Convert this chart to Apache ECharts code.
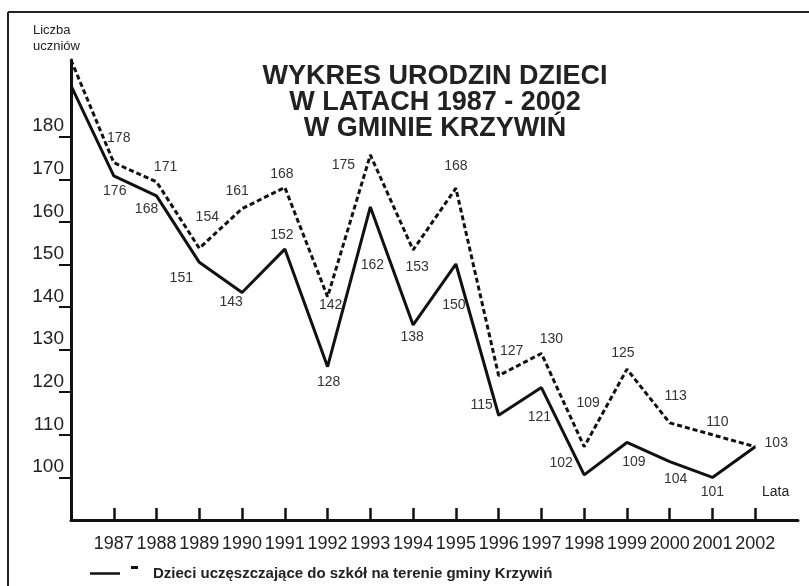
<!DOCTYPE html>
<html>
<head>
<meta charset="utf-8">
<script src="https://cdn.jsdelivr.net/npm/echarts@6/dist/echarts.min.js"></script>
<style>
  html, body { margin: 0; padding: 0; background: #fff; }
  #chart { width: 809px; height: 586px; }
</style>
</head>
<body>
<div id="chart"></div>
<script>
  // lata (1986 = punkt startowy na osi Y)
  const years = [1986, 1987, 1988, 1989, 1990, 1991, 1992, 1993, 1994, 1995, 1996, 1997, 1998, 1999, 2000, 2001, 2002];
  const yearTicks = [1987, 1988, 1989, 1990, 1991, 1992, 1993, 1994, 1995, 1996, 1997, 1998, 1999, 2000, 2001, 2002];
  const countTicks = [100, 110, 120, 130, 140, 150, 160, 170, 180];

  const solidValues = [192, 170.8, 166.1, 150.5, 143.4, 153.6, 126, 163.5, 135.8, 150.1, 114.6, 121.1, 100.6, 108.2, 103.7, 100, 107.2];
  const dashedValues = [198, 173.9, 169.4, 153.8, 163.1, 168.1, 142.4, 175.7, 153.4, 167.9, 123.9, 129.1, 107.2, 125.4, 112.8, 110, 107.2];

  // liczby wypisane przy punktach
  const solidLabels = [null, 176, 168, 151, 143, 152, 128, 162, 138, 150, 115, 121, 102, 109, 104, 101, null];
  const dashedLabels = [null, 178, 171, 154, 161, 168, 142, 175, 153, 168, 127, 130, 109, 125, 113, 110, 103];

  const legendName = 'Dzieci uczęszczające do szkół na terenie gminy Krzywiń';

  // przesuniecia etykiet wzgledem punktu
  const solidOffsets = [[0, 0], [1, 15], [-10, 13], [-18, 16], [-11, 10], [-3, -14], [1, 15], [2, 58], [-1, 12], [-2, 41], [-17, -10], [-2, 30], [-23, -12], [7, 20], [6, 17], [0, 15], [0, 0]];
  const dashedOffsets = [[0, 0], [5, -25], [9, -15], [8, -31], [-5, -18], [-3, -13], [3, 8], [-27, 10], [4, 17], [0, -22], [13, -24], [10, -14], [4, -44], [-4, -16], [6, -27], [5, -13], [21, -4]];

  const chart = echarts.init(document.getElementById('chart'));

  const buildData = (values, labels, offsets) => values.map((v, i) => ({
    value: [years[i], v],
    label: labels[i] == null ? { show: false } : {
      show: true,
      position: 'inside',
      offset: offsets[i],
      formatter: String(labels[i]),
    },
  }));

  const labelStyle = {
    color: '#333',
    fontSize: 14,
    fontFamily: 'Liberation Sans, Arial, sans-serif',
  };

  const option = {
    backgroundColor: '#fff',
    animation: false,
    title: {
      text: 'WYKRES URODZIN DZIECI\nW LATACH 1987 - 2002\nW GMINIE KRZYWIŃ',
      left: 430,
      top: 59,
      textAlign: 'center',
      textStyle: {
        color: '#222',
        fontSize: 27,
        fontWeight: 'bold',
        lineHeight: 26,
        fontFamily: 'Liberation Sans, Arial, sans-serif',
      },
    },
    legend: {
      data: [{ name: legendName, icon: 'rect' }],
      left: 85,
      top: 561,
      itemWidth: 30,
      itemHeight: 2.5,
      textStyle: {
        color: '#222',
        fontSize: 15,
        fontWeight: 'bold',
        padding: [0, 0, 0, 28],
        fontFamily: 'Liberation Sans, Arial, sans-serif',
      },
    },
    grid: {
      left: 71,
      right: 11,
      top: 60,
      bottom: 66,
    },
    xAxis: {
      type: 'value',
      min: 1986,
      max: 2003,
      splitLine: { show: false },
      axisLine: { lineStyle: { color: '#111', width: 3 } },
      axisTick: {
        inside: true,
        length: 12,
        lineStyle: { color: '#111', width: 2.5 },
        customValues: yearTicks,
      },
      axisLabel: {
        color: '#222',
        fontSize: 18,
        margin: 15,
        fontFamily: 'Liberation Sans Narrow, Arial Narrow, Liberation Sans, sans-serif',
        customValues: yearTicks,
        formatter: (v) => String(v),
      },
    },
    yAxis: {
      type: 'value',
      min: 90,
      max: 198,
      splitLine: { show: false },
      axisLine: { lineStyle: { color: '#111', width: 3 } },
      axisTick: {
        length: 12,
        lineStyle: { color: '#111', width: 2 },
        customValues: countTicks,
      },
      axisLabel: {
        color: '#222',
        fontSize: 19,
        margin: 7,
        verticalAlign: 'bottom',
        padding: [0, 0, 1, 0],
        fontFamily: 'Liberation Sans, Arial, sans-serif',
        customValues: countTicks,
      },
    },
    series: [
      {
        name: legendName,
        type: 'line',
        clip: false,
        symbol: 'circle',
        symbolSize: 0,
        itemStyle: { color: '#111' },
        lineStyle: { color: '#111', width: 3 },
        label: labelStyle,
        data: buildData(solidValues, solidLabels, solidOffsets),
      },
      {
        name: 'dashed',
        type: 'line',
        clip: false,
        symbol: 'circle',
        symbolSize: 0,
        itemStyle: { color: '#111' },
        lineStyle: { color: '#111', width: 3, type: [5, 3] },
        label: labelStyle,
        data: buildData(dashedValues, dashedLabels, dashedOffsets),
      },
    ],
    graphic: [
      // ramka skanu
      { type: 'line', shape: { x1: 8, y1: 12, x2: 8, y2: 586 }, style: { stroke: '#222', lineWidth: 2 } },
      { type: 'line', shape: { x1: 8, y1: 12, x2: 809, y2: 12 }, style: { stroke: '#222', lineWidth: 2 } },
      {
        type: 'text', left: 33, top: 22,
        style: { text: 'Liczba\nuczniów', fill: '#222', fontSize: 13, lineHeight: 16, fontFamily: 'Liberation Sans, Arial, sans-serif' },
      },
      {
        type: 'text', left: 762, top: 485,
        style: { text: 'Lata', fill: '#222', fontSize: 14, fontFamily: 'Liberation Sans, Arial, sans-serif' },
      },
      // kreska legendy linii przerywanej
      { type: 'rect', shape: { x: 131, y: 566, width: 7, height: 3 }, style: { fill: '#111' } },
    ],
  };

  chart.setOption(option);
</script>
</body>
</html>
